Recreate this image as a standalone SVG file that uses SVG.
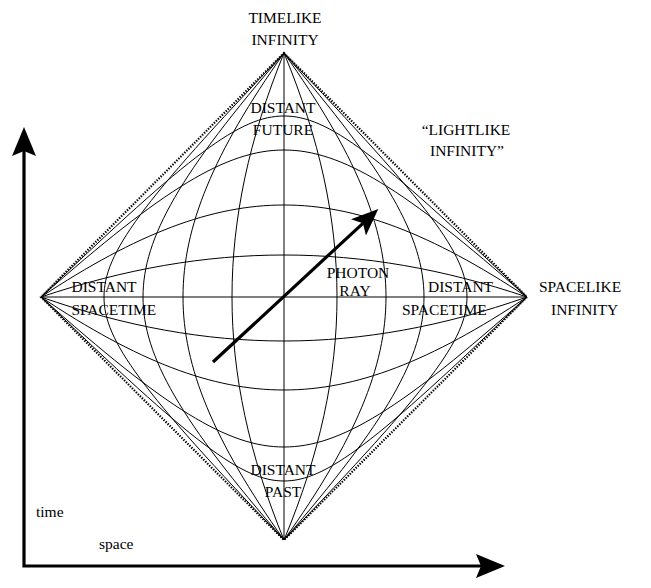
<svg xmlns="http://www.w3.org/2000/svg" width="651" height="588" viewBox="0 0 651 588">
<style>
  text { font-family: "Liberation Serif", "Times New Roman", serif; font-size: 15.5px; fill: #000; }
  .m { text-anchor: middle; }
  .grid { fill: none; stroke: #000; stroke-width: 1; }
  .edge { fill: none; stroke: #000; stroke-width: 2.2; stroke-dasharray: 1.4 1.4; }
  .thick { fill: none; stroke: #000; stroke-width: 3.2; }
</style>
<defs>
  <marker id="axisHead" viewBox="-6 -13 31 26" markerWidth="31" markerHeight="26" refX="0" refY="0" orient="auto-start-reverse" markerUnits="userSpaceOnUse">
    <path d="M24,0 L-5,-12 L0,0 L-5,12 Z" fill="#000"/>
  </marker>
  <marker id="rayHead" viewBox="-7 -12 29 24" markerWidth="29" markerHeight="24" refX="0" refY="0" orient="auto" markerUnits="userSpaceOnUse">
    <path d="M21,0 L-6,-11 L0,0 L-6,11 Z" fill="#000"/>
  </marker>
</defs>
<rect width="651" height="588" fill="#fff"/>

<g id="diamond">
  <polygon class="edge" points="284,53 527,297 284,540 41,297"/>
</g>

<g id="connectors">
  <g id="space-lines">
    <path class="grid" d="M284,53 V540"/>
    <path class="grid" d="M284,53 C319.72,139.14 337,218.68 337,297 C337,375 319.72,454.21 284,540"/>
    <path class="grid" d="M284,53 C248.95,138.99 232,218.54 232,297 C232,375.14 248.95,454.36 284,540"/>
    <path class="grid" d="M284,53 C355.2,153.16 386,226.85 386,297 C386,366.87 355.2,440.25 284,540"/>
    <path class="grid" d="M284,53 C213.5,152.87 183,226.55 183,297 C183,367.16 213.5,440.54 284,540"/>
    <path class="grid" d="M284,53 C386.76,172.27 424,237.18 424,297 C424,356.58 386.76,421.22 284,540"/>
    <path class="grid" d="M284,53 C180.36,172.86 143,237.52 143,297 C143,356.24 180.36,420.63 284,540"/>
    <path class="grid" d="M284,53 C430.4,205.95 467,254.75 467,297 C467,339.08 430.4,387.68 284,540"/>
    <path class="grid" d="M284,53 C140.54,203.59 104,253.12 104,297 C104,340.7 140.54,390.03 284,540"/>
  </g>
  <g id="time-lines">
    <path class="grid" d="M41,297 H527"/>
    <path class="grid" d="M41,297 C124.96,268.82 204.91,255 284,255 C363.09,255 443.04,268.82 527,297"/>
    <path class="grid" d="M41,297 C125.33,326.57 205.03,341 284,341 C362.97,341 442.67,326.57 527,297"/>
    <path class="grid" d="M41,297 C137.13,233.34 211.98,205 284,205 C356.02,205 430.87,233.34 527,297"/>
    <path class="grid" d="M41,297 C137.53,361.45 212.13,390 284,390 C355.87,390 430.47,361.45 527,297"/>
    <path class="grid" d="M41,297 C164.14,187.93 226.84,150 284,150 C341.16,150 403.86,187.93 527,297"/>
    <path class="grid" d="M41,297 C166.18,408.9 227.9,447 284,447 C340.1,447 401.82,408.9 527,297"/>
    <path class="grid" d="M41,297 C191.52,152.56 240.61,116 284,116 C327.39,116 376.48,152.56 527,297"/>
    <path class="grid" d="M41,297 C193.7,444.2 242.3,481 284,481 C325.7,481 374.3,444.2 527,297"/>
  </g>
  <g id="photon-ray">
    <path class="thick" d="M213,362 L362.9,223.3" marker-end="url(#rayHead)"/>
  </g>
  <g id="axes">
    <path class="thick" d="M24,151 V566 H481" marker-start="url(#axisHead)" marker-end="url(#axisHead)"/>
  </g>
</g>

<g id="labels" font-family="Liberation Serif, serif">
  <g id="timelike-infinity">
    <text class="m" x="285" y="23">TIMELIKE</text>
    <text class="m" x="285" y="45">INFINITY</text>
  </g>
  <g id="distant-future">
    <text class="m" x="283" y="113">DISTANT</text>
    <text class="m" x="283" y="135">FUTURE</text>
  </g>
  <g id="lightlike-infinity">
    <text class="m" x="466" y="135">“LIGHTLIKE</text>
    <text class="m" x="467" y="156">INFINITY”</text>
  </g>
  <g id="distant-spacetime-left">
    <text x="71.5" y="292">DISTANT</text>
    <text x="71.5" y="315">SPACETIME</text>
  </g>
  <g id="distant-spacetime-right">
    <text x="428" y="292">DISTANT</text>
    <text x="402" y="315">SPACETIME</text>
  </g>
  <g id="spacelike-infinity">
    <text x="539" y="292">SPACELIKE</text>
    <text x="551" y="315">INFINITY</text>
  </g>
  <g id="photon-label">
    <text class="m" x="358" y="278">PHOTON</text>
    <text class="m" x="355" y="295.5">RAY</text>
  </g>
  <g id="distant-past">
    <text class="m" x="283" y="475">DISTANT</text>
    <text class="m" x="283" y="497">PAST</text>
  </g>
  <g id="axis-labels">
    <text x="36" y="517">time</text>
    <text x="99" y="549">space</text>
  </g>
</g>
</svg>
